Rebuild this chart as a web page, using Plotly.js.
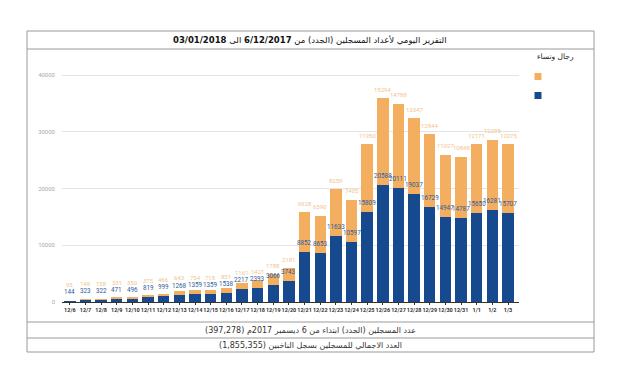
<!DOCTYPE html>
<html>
<head>
<meta charset="utf-8">
<script src="https://cdn.plot.ly/plotly-3.0.1.min.js"></script>
<style>html,body{margin:0;padding:0;background:#fff;}#chart{width:620px;height:375px;}</style>
</head>
<body>
<div id="chart"></div>
<script>
const categories = ["12/6","12/7","12/8","12/9","12/10","12/11","12/12","12/13","12/14","12/15","12/16","12/17","12/18","12/19","12/20","12/21","12/22","12/23","12/24","12/25","12/26","12/27","12/28","12/29","12/30","12/31","1/1","1/2","1/3"];
const blueValues = [144,323,322,471,496,819,999,1268,1359,1359,1538,2217,2393,3066,3743,8852,8653,11633,10597,15809,20588,20111,19037,16729,14947,14787,15650,16281,15707];
const orangeValues = [95,148,158,331,350,375,466,643,754,718,851,1161,1421,1788,2181,6928,6590,8259,7405,11950,15294,14788,13347,12844,11027,10848,12171,12295,12075];
const yTicks = [0,10000,20000,30000,40000];
const titleText = "التقرير اليومي لأعداد المسجلين (الجدد) من <b>6/12/2017</b> الى <b>03/01/2018</b>";
const legendTitle = "رجال ونساء";
const footer1 = "عدد المسجلين (الجدد) ابتداء من 6 ديسمبر 2017م (397,278)";
const footer2 = "العدد الاجمالي للمسجلين بسجل الناخبين (1,855,355)";

const blue = "#17498f", orange = "#f4ae5f";
const totals = blueValues.map((v,i)=>v+orangeValues[i]);

const L=62, R=519, T=60, B=302;
const W=R-L, H=B-T;
const YMAX=42650;
const px=x=>(x-L)/W, py=y=>(B-y)/H;

const traces = [
  {type:"bar", x:categories, y:blueValues, marker:{color:blue}, showlegend:false, hoverinfo:"y"},
  {type:"bar", x:categories, y:orangeValues, marker:{color:orange}, showlegend:false, hoverinfo:"y"},
  {type:"scatter", mode:"markers", x:[null], y:[null], name:" ", marker:{symbol:"square", size:7, color:orange}},
  {type:"scatter", mode:"markers", x:[null], y:[null], name:" ", marker:{symbol:"square", size:7, color:blue}}
];

const labelAnn = [];
categories.forEach((c,i)=>{
  labelAnn.push({x:c, y:blueValues[i], xref:"x", yref:"y", text:String(blueValues[i]), showarrow:false,
    yanchor:"middle", yshift:9, font:{family:"Roboto, sans-serif", size:6.3, color:"#2c5d9c"}});
  const diffPx = orangeValues[i]*H/YMAX;
  const shift = Math.max(9, 17-diffPx);
  labelAnn.push({x:c, y:totals[i], xref:"x", yref:"y", text:String(orangeValues[i]), showarrow:false,
    yanchor:"middle", yshift:shift, font:{family:"Roboto, sans-serif", size:6, color:"#f2c48e"}});
});

const line=(x0,y0,x1,y1,c)=>({type:"line",xref:"paper",yref:"paper",x0:px(x0),y0:py(y0),x1:px(x1),y1:py(y1),line:{color:c||"#9a9a9a",width:1}});

const layout = {
  width:620, height:375,
  margin:{l:L, r:620-R, t:T, b:375-B, pad:0},
  paper_bgcolor:"#fff", plot_bgcolor:"#fff",
  barmode:"stack", bargap:0.27,
  font:{family:"DejaVu Sans, sans-serif"},
  xaxis:{type:"category", tickangle:0, tickfont:{family:"Roboto, sans-serif", size:5.5, color:"#333", weight:"bold"},
         showline:true, linecolor:"#333", linewidth:1, ticks:"outside", ticklen:2, tickcolor:"#333",
         showgrid:false, fixedrange:true},
  yaxis:{range:[0,YMAX], tickvals:yTicks, tickformat:"d", tickfont:{family:"Roboto, sans-serif", size:6, color:"#aaa"},
         showgrid:true, gridcolor:"#e4e4e4", gridwidth:1, zeroline:false, showline:false, ticks:"", ticklabelstandoff:6, fixedrange:true},
  showlegend:true,
  legend:{x:px(518), y:py(62), xanchor:"left", yanchor:"top", traceorder:"normal", font:{size:6}, itemwidth:30, tracegroupgap:0, bgcolor:"rgba(0,0,0,0)"},
  shapes:[
    line(27,31,594,31), line(27,352,594,352), line(27,31,27,352), line(594,31,594,352),
    line(27,49,594,49), line(27,322,594,322), line(27,338,594,338)
  ],
  annotations:labelAnn.concat([
    {xref:"paper",yref:"paper",x:px(310),y:py(40),text:titleText,showarrow:false,xanchor:"center",yanchor:"middle",
     font:{family:"DejaVu Sans, sans-serif",size:8.5,color:"#111"}},
    {xref:"paper",yref:"paper",x:px(555),y:py(57),text:legendTitle,showarrow:false,xanchor:"center",yanchor:"middle",
     font:{family:"DejaVu Sans, sans-serif",size:7.5,color:"#222"}},
    {xref:"paper",yref:"paper",x:px(310),y:py(330.5),text:footer1,showarrow:false,xanchor:"center",yanchor:"middle",
     font:{family:"DejaVu Sans, sans-serif",size:8,color:"#333"}},
    {xref:"paper",yref:"paper",x:px(310),y:py(345),text:footer2,showarrow:false,xanchor:"center",yanchor:"middle",
     font:{family:"DejaVu Sans, sans-serif",size:8,color:"#333"}}
  ])
};

Plotly.newPlot("chart", traces, layout, {displayModeBar:false, staticPlot:true});
</script>
</body>
</html>
